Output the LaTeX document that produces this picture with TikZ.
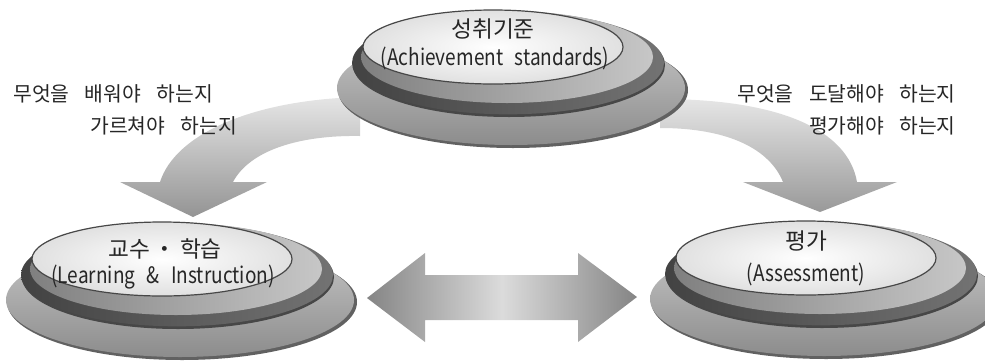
\documentclass[tikz,border=0pt]{standalone}
\usepackage{fontspec}
\setmainfont{Noto Sans CJK KR}
\newcommand\wsp{\hspace{0.6em}}
\newcommand\lat[1]{\scalebox{0.84}[1]{#1}}
\newcommand\sws{\hspace{0.75em}}
\tikzset{
  ttl/.style={inner sep=0pt, font=\fontsize{17}{20}\selectfont, text=black!85},
  side/.style={inner sep=0pt, font=\fontsize{15.3}{18}\selectfont, text=black!85},
  disc/.pic={
    \fill[black!62] (20,43) ellipse [x radius=131.25pt, y radius=43.5pt];
    \shade[top color=black!22, bottom color=black!45] (18,41) ellipse [x radius=130.5pt, y radius=42.75pt];
    \fill[black!72] (16,18) ellipse [x radius=117pt, y radius=39pt];
    \shade[left color=black!74, right color=black!55] (15,16) ellipse [x radius=117pt, y radius=38.5pt];
    \shade[left color=black!50, right color=black!22] (14,10) ellipse [x radius=109.5pt, y radius=34.5pt];
    \shade[inner color=white, outer color=black!12, draw=black!72, line width=0.9pt] (0,0) ellipse [x radius=97.5pt, y radius=27.75pt];
  }
}
\begin{document}
\begin{tikzpicture}[x=0.75pt,y=-0.75pt]
\useasboundingbox (0,0) rectangle (985,361);
% curved arrows (under the top plate)
\shade[top color=black!10, bottom color=black!42]
  (360,97) .. controls (250,100) and (175,135) .. (160,182) -- (120,182) -- (193,217) -- (267,182) -- (233,182)
  .. controls (250,150) and (300,135) .. (360,136) -- cycle;
\shade[top color=black!10, bottom color=black!40]
  (660,99) .. controls (780,99) and (848,130) .. (857,182) -- (897,182) -- (820,212) -- (743,182) -- (783,182)
  .. controls (770,150) and (730,128) .. (660,128) -- cycle;
% double arrow
\shade[left color=black!48, right color=black!48, middle color=black!14]
  (367,298) -- (425,253) -- (425,275) -- (578,275) -- (578,253) -- (637,297) -- (578,342) -- (578,320) -- (425,320) -- (425,342) -- cycle;
% discs
\pic at (493,47) {disc};
\pic at (162,259) {disc};
\pic at (806,258) {disc};
% labels
\node[ttl] (t1) at (493,29) {성취기준};
\node[ttl] (t2) at (495,58) {\lat{(Achievement\wsp standards)}};
\node[ttl] (l1) at (165,249) {교수\,・\,학습};
\node[ttl] (l2) at (163,277) {\lat{(Learning\wsp \&\wsp Instruction)}};
\node[ttl] (r1) at (806,241) {평가};
\node[ttl] (r2) at (806,274) {\lat{(Assessment)}};
\node[side, anchor=west] (a1) at (13,94) {무엇을\sws 배워야\sws 하는지};
\node[side, anchor=west] (a2) at (90,126) {가르쳐야\sws 하는지};
\node[side, anchor=east] (b1) at (956,94) {무엇을\sws 도달해야\sws 하는지};
\node[side, anchor=east] (b2) at (956,126) {평가해야\sws 하는지};
\end{tikzpicture}
\end{document}
